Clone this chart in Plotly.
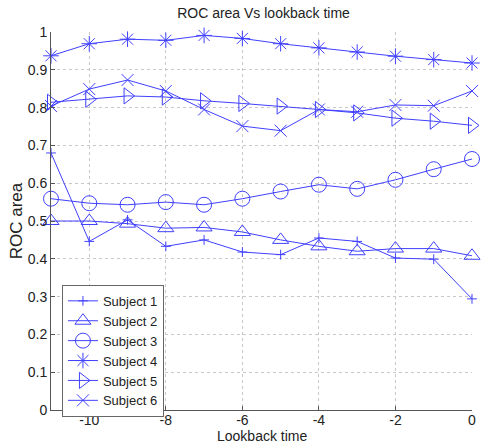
import plotly.graph_objects as go

lookback = [-11, -10, -9, -8, -7, -6, -5, -4, -3, -2, -1, 0]
subject1 = [0.680, 0.446, 0.503, 0.433, 0.450, 0.418, 0.411, 0.455, 0.446, 0.402, 0.399, 0.294]
subject2 = [0.500, 0.500, 0.493, 0.481, 0.483, 0.471, 0.450, 0.433, 0.420, 0.427, 0.427, 0.408]
subject3 = [0.559, 0.547, 0.543, 0.550, 0.543, 0.559, 0.578, 0.596, 0.585, 0.609, 0.637, 0.664]
subject4 = [0.937, 0.969, 0.981, 0.978, 0.991, 0.983, 0.969, 0.958, 0.947, 0.936, 0.927, 0.918]
subject5 = [0.814, 0.822, 0.831, 0.828, 0.818, 0.811, 0.804, 0.795, 0.786, 0.772, 0.764, 0.753]
subject6 = [0.804, 0.849, 0.873, 0.844, 0.795, 0.751, 0.739, 0.795, 0.789, 0.807, 0.805, 0.844]

names = ["Subject 1", "Subject 2", "Subject 3", "Subject 4", "Subject 5", "Subject 6"]
series = [subject1, subject2, subject3, subject4, subject5, subject6]
symbols = ["cross-thin-open", "triangle-up-open", "circle-open", "asterisk-open",
           "triangle-right-open", "x-thin-open"]
sizes = [7, 14, 15, 13, 14, 12]

x_ticks = [-10, -8, -6, -4, -2, 0]
x_ticklabels = ["-10", "-8", "-6", "-4", "-2", "0"]
y_ticks = [0, 0.1, 0.2, 0.3, 0.4, 0.5, 0.6, 0.7, 0.8, 0.9, 1]
y_ticklabels = ["0", "0.1", "0.2", "0.3", "0.4", "0.5", "0.6", "0.7", "0.8", "0.9", "1"]

color = "#4040ff"
fig = go.Figure()
for name, ys, sym, sz in zip(names, series, symbols, sizes):
    fig.add_trace(go.Scatter(
        x=lookback, y=ys, name=name, mode="lines+markers", cliponaxis=False,
        line=dict(color=color, width=1),
        marker=dict(symbol=sym, size=sz, color=color, line=dict(color=color, width=1)),
    ))

font = dict(family="Liberation Sans, Arial, sans-serif", size=14, color="#222")
fig.update_layout(
    width=483, height=446,
    margin=dict(l=51, r=7, t=32, b=36),
    paper_bgcolor="white", plot_bgcolor="white",
    font=font,
    title=dict(text="ROC area Vs lookback time", x=(51 + 476) / 2 / 483, xanchor="center",
               y=1 - 13 / 446, yanchor="middle", font=dict(size=14)),
    legend=dict(x=0.026, y=0.331, xanchor="left", yanchor="top",
                bgcolor="white", bordercolor="#666", borderwidth=1,
                font=dict(size=13), tracegroupgap=0, itemwidth=30),
    showlegend=True,
    annotations=[dict(text="Lookback time", xref="paper", yref="paper",
                      x=0.5, y=-26 / 378, xanchor="center", yanchor="middle",
                      showarrow=False, font=dict(size=14))],
)
fig.update_xaxes(range=[-11, 0], tickvals=x_ticks, ticktext=x_ticklabels, ticks="inside", ticklen=4,
                 tickcolor="#555", ticklabelstandoff=-3,
                 showline=True, linecolor="#555", linewidth=1,
                 showgrid=True, gridcolor="#c8c8c8", griddash="dot", gridwidth=1,
                 zeroline=False, tickfont=dict(size=14))
fig.update_yaxes(range=[0, 1], tickvals=y_ticks, ticktext=y_ticklabels, ticks="inside", ticklen=4,
                 tickcolor="#555",
                 showline=True, linecolor="#555", linewidth=1,
                 showgrid=True, gridcolor="#c8c8c8", griddash="dot", gridwidth=1,
                 zeroline=False, title=dict(text="ROC area", standoff=0),
                 tickfont=dict(size=14))
fig.write_html("out.html", config={"displayModeBar": False},
               post_script="document.body.style.margin='0';document.body.style.padding='0';")
